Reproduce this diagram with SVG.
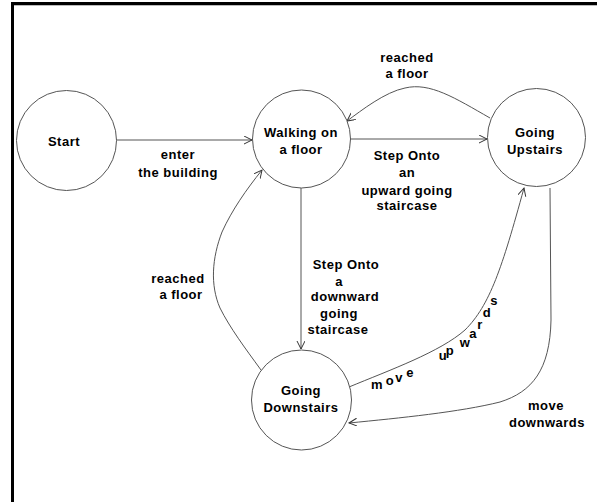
<svg xmlns="http://www.w3.org/2000/svg" width="597" height="502" viewBox="0 0 597 502">
<style>
.node circle{fill:#fff;stroke:#555;stroke-width:1}
text{font-family:"Liberation Sans",Arial,sans-serif;font-size:13px;font-weight:bold;fill:#000;letter-spacing:0.5px;text-anchor:middle}
.edge{fill:none;stroke:#555;stroke-width:1}
</style>
<defs>
<marker id="arr" markerWidth="10" markerHeight="10" refX="8" refY="4" orient="auto" markerUnits="userSpaceOnUse">
<path d="M0,0 L8,4 L0,8" fill="none" stroke="#333" stroke-width="1"/>
</marker>
</defs>
<rect x="0" y="0" width="597" height="502" fill="#fff"/>
<rect x="11" y="2" width="586" height="3" fill="#000"/>
<line x1="14" y1="5.5" x2="597" y2="5.5" stroke="#bbb" stroke-width="1"/>
<rect x="11" y="2" width="3" height="500" fill="#000"/>

<g id="connectors">
<path class="edge" d="M116,140 L252,140" marker-end="url(#arr)"/>
<path class="edge" d="M350,139 L487,139" marker-end="url(#arr)"/>
<path class="edge" d="M490,118 C455,98 430,82 405,88 C385,92 362,110 347,121" marker-end="url(#arr)"/>
<path class="edge" d="M301,188 L301,349" marker-end="url(#arr)"/>
<path class="edge" d="M261,370 C245,348 230,328 220,308 C210,285 212,258 222,232 C232,210 246,190 262,170" marker-end="url(#arr)"/>
<path class="edge" d="M349,387 C390,370 440,352 465,330 C490,305 502,268 524,188" marker-end="url(#arr)"/>
<path class="edge" d="M550,188 L551,320 C550,370 532,392 500,402 C460,412 400,418 349,423" marker-end="url(#arr)"/>
</g>

<g id="start" class="node">
<circle cx="66.5" cy="140.5" r="50"/>
<text x="64" y="146">Start</text>
</g>
<g id="walking" class="node">
<circle cx="301.5" cy="139" r="49"/>
<text x="301" y="137">Walking on</text>
<text x="301" y="154">a floor</text>
</g>
<g id="upstairs" class="node">
<circle cx="536.5" cy="137.5" r="49"/>
<text x="535" y="137">Going</text>
<text x="535" y="154">Upstairs</text>
</g>
<g id="downstairs" class="node">
<circle cx="301.5" cy="400" r="50"/>
<text x="301" y="395">Going</text>
<text x="301" y="412">Downstairs</text>
</g>

<g id="labels">
<text x="178" y="159">enter</text>
<text x="178" y="177">the building</text>
<text x="407" y="62">reached</text>
<text x="407" y="78">a floor</text>
<text x="407" y="160">Step Onto</text>
<text x="407" y="177">an</text>
<text x="407" y="195">upward going</text>
<text x="407" y="210">staircase</text>
<text x="346" y="269">Step Onto</text>
<text x="339" y="286">a</text>
<text x="345" y="301">downward</text>
<text x="339" y="318">going</text>
<text x="338" y="334">staircase</text>
<text x="178" y="283">reached</text>
<text x="181" y="299">a floor</text>
<text x="546" y="410">move</text>
<text x="547" y="427">downwards</text>
<text x="377 390 399 410 443 450 465 473 480 487 494" y="389 385 382 377 360 355 347 338 329 317 305">moveupwards</text>
</g>
</svg>
